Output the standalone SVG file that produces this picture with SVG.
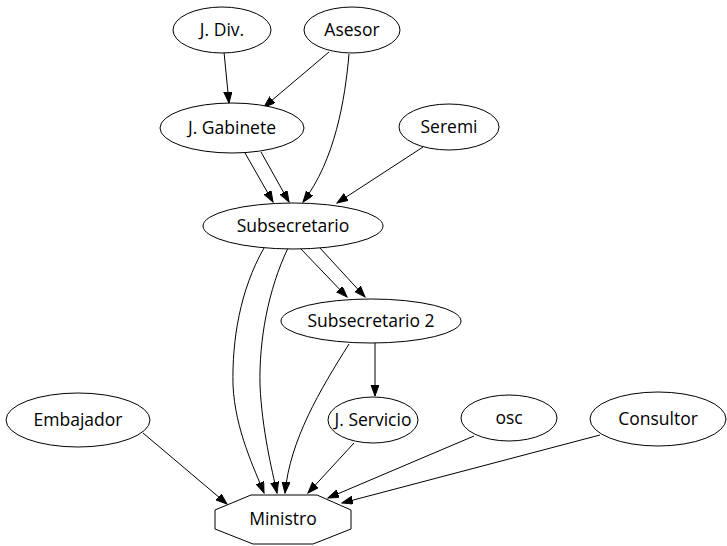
<svg xmlns="http://www.w3.org/2000/svg" width="727" height="546" viewBox="0 0 727 546">
<style>
.n ellipse,.n polygon{fill:#fff;stroke:#000;stroke-width:1}
.n text{font-family:"Open Sans","Noto Sans",sans-serif;font-size:17.5px;text-anchor:middle;fill:#000}
.e path{fill:none;stroke:#000;stroke-width:1;marker-end:url(#ah)}
</style>
<defs>
<marker id="ah" markerUnits="userSpaceOnUse" markerWidth="12" markerHeight="9" refX="11" refY="4" orient="auto">
<path d="M0,0 L11,4 L0,8 z" fill="#000" stroke="#000" stroke-width="1"/>
</marker>
</defs>
<rect width="727" height="546" fill="#fff"/>
<g id="edges" class="e">
<path d="M224,52 L229,103"/>
<path d="M329,52 L264,107"/>
<path d="M349,54 C345,100 335,160 303,202"/>
<path d="M245,153 L273,202"/>
<path d="M261,152 L289,202"/>
<path d="M423,147 L337,203"/>
<path d="M300,248 L347,297"/>
<path d="M320,248 L365,297"/>
<path d="M264,248 C240,290 232,340 233,385 C235,430 255,470 264,493"/>
<path d="M288,248 C268,290 259,340 260,385 C262,430 272,470 277,493"/>
<path d="M349,344 C320,390 290,440 285,493"/>
<path d="M375,343 L375,396"/>
<path d="M354,443 L308,493"/>
<path d="M474,436 L328,498"/>
<path d="M600,435 L342,503"/>
<path d="M143,433 L227,504"/>
</g>
<g id="jdiv" class="n"><ellipse cx="222" cy="30" rx="49" ry="23"/><text x="222" y="36">J. Div.</text></g>
<g id="asesor" class="n"><ellipse cx="352" cy="30" rx="48" ry="23"/><text x="352" y="36">Asesor</text></g>
<g id="jgabinete" class="n"><ellipse cx="232" cy="128" rx="72" ry="25"/><text x="232" y="134">J. Gabinete</text></g>
<g id="seremi" class="n"><ellipse cx="449" cy="127" rx="50" ry="23"/><text x="449" y="133">Seremi</text></g>
<g id="subsecretario" class="n"><ellipse cx="293" cy="226" rx="90" ry="23"/><text x="293" y="232">Subsecretario</text></g>
<g id="subsecretario2" class="n"><ellipse cx="371" cy="321" rx="90" ry="22"/><text x="371" y="327">Subsecretario 2</text></g>
<g id="jservicio" class="n"><ellipse cx="373" cy="420" rx="45" ry="23"/><text x="373" y="426">J. Servicio</text></g>
<g id="embajador" class="n"><ellipse cx="78" cy="420" rx="72" ry="27"/><text x="78" y="426">Embajador</text></g>
<g id="osc" class="n"><ellipse cx="509" cy="418" rx="48" ry="23"/><text x="509" y="424">osc</text></g>
<g id="consultor" class="n"><ellipse cx="658" cy="419" rx="68" ry="27"/><text x="658" y="425">Consultor</text></g>
<g id="ministro" class="n"><polygon points="251,495 317,495 351,510 351,529 313,544 253,544 215,529 215,510"/><text x="283" y="525">Ministro</text></g>
</svg>
